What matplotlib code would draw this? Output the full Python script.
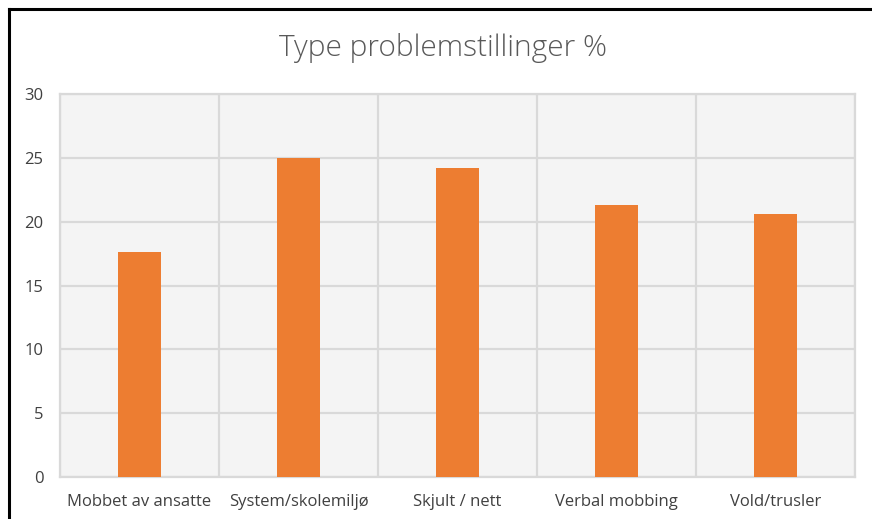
import numpy as np
import matplotlib.pyplot as plt
from matplotlib.lines import Line2D

categories = ["Mobbet av ansatte", "System/skolemiljø", "Skjult / nett", "Verbal mobbing", "Vold/trusler"]
values = [17.6, 25.0, 24.2, 21.3, 20.6]
yticks = [0, 5, 10, 15, 20, 25, 30]

W, H = 872, 519
fig = plt.figure(figsize=(W / 100, H / 100), dpi=100)
fig.patch.set_facecolor("white")

# plot area in pixels: left 60, right 855, top 94, bottom 477
ax = fig.add_axes([60 / W, 1 - 477 / H, (855 - 60) / W, (477 - 94) / H])
ax.set_facecolor("#f4f4f4")

x = np.arange(len(categories))
ax.bar(x, values, width=0.27, color="#ED7D31", zorder=3)

ax.set_xlim(-0.5, len(categories) - 0.5)
ax.set_ylim(0, 30)
ax.set_yticks(yticks)
ax.set_yticklabels([str(t) for t in yticks])
ax.set_xticks(x)
ax.set_xticklabels(categories)

# horizontal grid and vertical lines at category boundaries
ax.set_xticks(np.arange(-0.5, len(categories)), minor=True)
ax.grid(axis="y", which="major", color="#d9d9d9", linewidth=1.6, zorder=1)
ax.grid(axis="x", which="minor", color="#d9d9d9", linewidth=1.6, zorder=1)
ax.grid(axis="x", which="major", visible=False)

for s in ax.spines.values():
    s.set_color("#d9d9d9")
    s.set_linewidth(1.6)

ax.tick_params(which="both", length=0)
ax.tick_params(axis="x", pad=12, labelsize=12, labelcolor="#404040")
ax.tick_params(axis="y", pad=12, labelsize=12, labelcolor="#404040")
for lab in ax.get_xticklabels() + ax.get_yticklabels():
    lab.set_family("Open Sans")

fig.text(443 / W, 1 - 48 / H, "Type problemstillinger %",
         ha="center", va="center", fontsize=21.5, color="#595959",
         family="Open Sans", fontweight="light")

# black frame lines at top and left
fig.add_artist(Line2D([9 / W, 1], [1 - 9 / H, 1 - 9 / H], color="black", linewidth=2.2))
fig.add_artist(Line2D([9 / W, 9 / W], [0, 1 - 9 / H], color="black", linewidth=2.2))

fig.savefig("out.png", dpi=100)
